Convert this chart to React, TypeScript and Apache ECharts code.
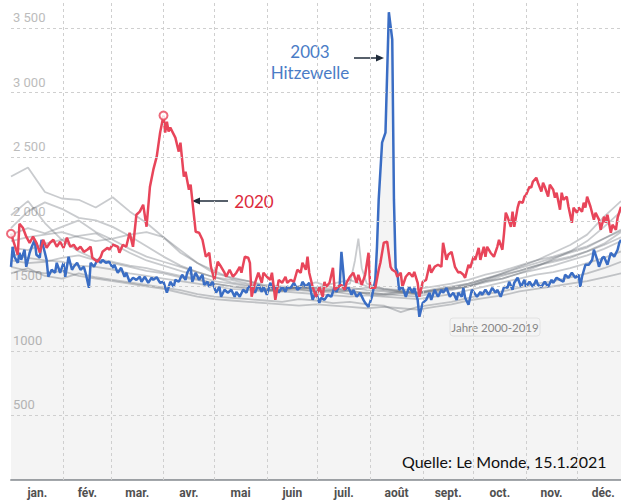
import { useEffect, useRef } from "react";
import * as echarts from "echarts";

const monthNames = ["jan.", "fév.", "mar.", "avr.", "mai", "juin", "juil.", "août", "sept.", "oct.", "nov.", "déc."];
const monthStarts = [0, 31, 59, 90, 120, 151, 181, 212, 243, 273, 304, 334];
const monthCenters = [15.5, 45, 74.5, 105, 135.5, 166, 196.5, 227.5, 258, 288.5, 319, 349.5];
const yTicks = [500, 1000, 1500, 2000, 2500, 3000, 3500];

// 2020 daily deaths [day of year, deaths]
const deaths2020: [number, number][] = [
  [0, 1907], [4, 1744], [5, 1984], [7, 1953], [9, 1884], [11, 1837], [13, 1884], [15, 1837], [17, 1760], [19, 1860],
  [21, 1798], [23, 1837], [25, 1860], [27, 1806], [29, 1845], [31, 1798], [33, 1876], [35, 1806], [37, 1822], [39, 1783],
  [41, 1806], [43, 1767], [45, 1783], [47, 1806], [48, 1721], [51, 1690], [53, 1729], [54, 1767], [57, 1798], [58, 1783],
  [60, 1822], [63, 1806], [64, 1760], [66, 1822], [68, 1806], [70, 1915], [72, 1806], [74, 2054], [76, 2078], [78, 2132],
  [80, 1961], [82, 2271], [84, 2403], [86, 2504], [88, 2690], [90, 2822], [91, 2690], [92, 2775], [93, 2698], [94, 2729],
  [97, 2651], [99, 2543], [100, 2612], [102, 2349], [103, 2388], [105, 2248], [106, 2287], [109, 1922], [111, 1915], [113, 1860],
  [115, 1729], [117, 1760], [118, 1651], [120, 1550], [122, 1690], [124, 1651], [126, 1605], [127, 1574], [129, 1628], [131, 1574],
  [133, 1605], [135, 1651], [136, 1605], [138, 1729], [140, 1721], [141, 1682], [142, 1419], [144, 1527], [146, 1605], [148, 1527],
  [149, 1605], [151, 1574], [153, 1550], [154, 1605], [156, 1395], [158, 1550], [160, 1527], [162, 1574], [163, 1527], [165, 1550],
  [167, 1535], [169, 1628], [171, 1605], [172, 1682], [174, 1628], [175, 1729], [176, 1605], [178, 1496], [180, 1419], [182, 1496],
  [184, 1419], [185, 1535], [186, 1496], [188, 1527], [190, 1643], [191, 1473], [193, 1496], [195, 1511], [197, 1473], [198, 1527],
  [200, 1574], [202, 1605], [204, 1527], [205, 1589], [207, 1511], [209, 1589], [211, 1760], [212, 1488], [215, 1488], [217, 1628],
  [218, 1682], [220, 1837], [222, 1845], [224, 1651], [225, 1628], [227, 1612], [228, 1574], [230, 1605], [231, 1496], [233, 1574],
  [235, 1605], [237, 1574], [238, 1612], [240, 1527], [241, 1419], [243, 1535], [245, 1550], [247, 1667], [248, 1605], [250, 1651],
  [252, 1667], [254, 1651], [255, 1837], [257, 1705], [258, 1744], [260, 1767], [262, 1651], [264, 1605], [265, 1612], [267, 1589],
  [268, 1566], [270, 1667], [271, 1643], [273, 1729], [274, 1705], [276, 1798], [277, 1705], [279, 1806], [280, 1729], [281, 1806],
  [283, 1760], [285, 1729], [287, 1806], [288, 1860], [290, 1783], [291, 1915], [292, 2070], [293, 2039], [295, 1961], [296, 2078],
  [297, 1961], [299, 2109], [300, 2155], [302, 2147], [303, 2194], [304, 2209], [306, 2271], [307, 2264], [308, 2310], [310, 2341],
  [311, 2302], [313, 2233], [314, 2302], [315, 2271], [317, 2194], [318, 2287], [320, 2248], [321, 2186], [322, 2225], [324, 2093],
  [325, 2225], [326, 2170], [328, 2194], [329, 2116], [331, 1992], [332, 2109], [334, 2070], [335, 2109], [337, 2078], [338, 2147],
  [339, 2109], [340, 2194], [342, 2116], [344, 2016], [345, 2070], [347, 2016], [348, 1938], [350, 2039], [351, 1992], [352, 2054],
  [354, 1915], [355, 1977], [357, 1938], [358, 2031], [360, 2116],
];

// 2003 daily deaths (heat wave in August)
const deaths2003: [number, number][] = [
  [0, 1651], [1, 1806], [2, 1729], [4, 1682], [5, 1760], [6, 1705], [8, 1783], [9, 1651], [11, 1760], [12, 1798],
  [14, 1860], [15, 1744], [17, 1721], [18, 1860], [20, 1760], [21, 1705], [22, 1574], [24, 1628], [26, 1605], [27, 1682],
  [29, 1605], [31, 1682], [32, 1574], [34, 1729], [36, 1628], [37, 1651], [39, 1682], [41, 1628], [43, 1651], [44, 1605],
  [46, 1488], [47, 1682], [49, 1651], [51, 1705], [53, 1682], [54, 1705], [56, 1682], [58, 1690], [60, 1643], [61, 1667],
  [63, 1605], [65, 1643], [67, 1574], [68, 1605], [70, 1535], [72, 1566], [74, 1550], [76, 1574], [77, 1535], [79, 1574],
  [81, 1527], [83, 1566], [84, 1550], [86, 1570], [88, 1527], [90, 1535], [92, 1450], [94, 1535], [96, 1496], [97, 1550],
  [99, 1535], [101, 1589], [103, 1550], [104, 1605], [106, 1651], [107, 1535], [109, 1605], [111, 1550], [113, 1589], [114, 1511],
  [116, 1535], [117, 1496], [119, 1535], [121, 1450], [123, 1496], [124, 1419], [126, 1473], [128, 1450], [130, 1473], [132, 1419],
  [133, 1457], [135, 1419], [137, 1473], [139, 1450], [140, 1496], [142, 1496], [144, 1450], [146, 1511], [148, 1457], [149, 1496],
  [151, 1434], [153, 1527], [155, 1473], [156, 1496], [158, 1450], [160, 1496], [162, 1457], [163, 1496], [165, 1488], [167, 1527],
  [169, 1473], [171, 1496], [172, 1535], [174, 1496], [176, 1527], [178, 1395], [180, 1457], [182, 1372], [183, 1411], [185, 1395],
  [187, 1434], [189, 1419], [191, 1496], [192, 1457], [194, 1511], [195, 1767], [196, 1628], [197, 1473], [199, 1496], [201, 1434],
  [202, 1473], [204, 1419], [206, 1450], [208, 1395], [209, 1372], [211, 1341], [213, 1419], [215, 1550], [216, 1806], [217, 2171],
  [219, 2612], [221, 2690], [223, 3622], [225, 3411], [226, 2171], [227, 1643], [228, 1612], [229, 1473], [231, 1496], [233, 1419],
  [235, 1496], [237, 1450], [238, 1488], [240, 1395], [241, 1264], [243, 1372], [245, 1395], [247, 1450], [248, 1395], [250, 1473],
  [252, 1419], [254, 1473], [255, 1450], [257, 1488], [259, 1419], [261, 1450], [263, 1395], [264, 1450], [266, 1419], [267, 1488],
  [268, 1411], [270, 1357], [272, 1473], [273, 1457], [275, 1419], [277, 1457], [278, 1434], [280, 1473], [282, 1434], [284, 1488],
  [286, 1450], [287, 1473], [289, 1419], [291, 1496], [293, 1488], [294, 1535], [296, 1473], [297, 1527], [299, 1566], [301, 1496],
  [303, 1550], [304, 1496], [306, 1535], [308, 1496], [310, 1550], [311, 1511], [313, 1496], [315, 1535], [317, 1496], [319, 1550],
  [320, 1527], [322, 1566], [324, 1550], [326, 1535], [327, 1589], [329, 1566], [331, 1605], [333, 1566], [335, 1589], [336, 1496],
  [337, 1574], [339, 1667], [341, 1667], [343, 1705], [344, 1783], [346, 1705], [347, 1651], [349, 1721], [350, 1729], [352, 1667],
  [354, 1760], [356, 1729], [358, 1783], [359, 1837], [360, 1860],
];

// Other years 2000-2019 (every 10 days)
const grayDays = [0, 10, 20, 30, 40, 50, 60, 70, 80, 90, 100, 110, 120, 130, 140, 150, 160, 170, 180, 190, 200, 210, 220, 230, 240, 250, 260, 270, 280, 290, 300, 310, 320, 330, 340, 350, 360];
const grayA = [2350, 2420, 2230, 2180, 2170, 2110, 2190, 2080, 1990, 1880, 1760, 1680, 1620, 1560, 1540, 1500, 1490, 1480, 1460, 1450, 1470, 1440, 1430, 1450, 1440, 1470, 1480, 1500, 1540, 1560, 1600, 1630, 1660, 1700, 1740, 1790, 1850];
const grayB = [1950, 2080, 2150, 2100, 2030, 2010, 1960, 1890, 1810, 1730, 1660, 1610, 1570, 1530, 1510, 1480, 1470, 1500, 1490, 1480, 1470, 1490, 1470, 1460, 1450, 1480, 1500, 1520, 1560, 1590, 1620, 1660, 1690, 1720, 1770, 1830, 1920];
const grayC = [2050, 2160, 1990, 1860, 1770, 1710, 1690, 1660, 1640, 1610, 1580, 1560, 1520, 1500, 1480, 1470, 1460, 1500, 1470, 1460, 1440, 1450, 1440, 1430, 1420, 1450, 1470, 1500, 1530, 1560, 1600, 1650, 1710, 1770, 1850, 1960, 2080];
const grayD = [1800, 1780, 1830, 1860, 1890, 1910, 1830, 1760, 1700, 1660, 1620, 1580, 1540, 1520, 1500, 1470, 1460, 1450, 1440, 1430, 1420, 1430, 1420, 1410, 1400, 1420, 1440, 1470, 1500, 1530, 1560, 1590, 1610, 1640, 1680, 1720, 1770];
const grayE = [1650, 1620, 1600, 1620, 1580, 1560, 1540, 1520, 1500, 1480, 1450, 1420, 1400, 1390, 1380, 1370, 1360, 1350, 1360, 1350, 1340, 1330, 1340, 1330, 1320, 1340, 1360, 1390, 1410, 1430, 1460, 1480, 1500, 1520, 1540, 1570, 1600];
const grayG = [1700, 1680, 1690, 1720, 1740, 1700, 1680, 1650, 1620, 1600, 1570, 1550, 1520, 1500, 1490, 1480, 1470, 1470, 1460, 1470, 1460, 1450, 1440, 1460, 1450, 1470, 1490, 1510, 1550, 1600, 1650, 1700, 1760, 1820, 1900, 2040, 2160];
const grayH = [1900, 1950, 1910, 1960, 2010, 1920, 1860, 1790, 1730, 1690, 1650, 1610, 1570, 1550, 1520, 1500, 1490, 1480, 1490, 1520, 1550, 1500, 1480, 1470, 1480, 1500, 1520, 1550, 1590, 1620, 1660, 1700, 1730, 1770, 1810, 1870, 1930];
const grayI = [1850, 1880, 1900, 1920, 1880, 1850, 1870, 1900, 1920, 1880, 1780, 1680, 1600, 1570, 1540, 1510, 1500, 1490, 1480, 1470, 1490, 1470, 1460, 1450, 1440, 1460, 1480, 1500, 1540, 1580, 1620, 1660, 1700, 1730, 1770, 1820, 1880];
const grayJ = [1600, 1640, 1580, 1560, 1600, 1570, 1550, 1530, 1510, 1490, 1470, 1440, 1420, 1410, 1400, 1390, 1380, 1400, 1390, 1370, 1380, 1360, 1350, 1300, 1340, 1360, 1380, 1410, 1440, 1460, 1490, 1520, 1540, 1570, 1600, 1640, 1690];
// a year with a July heat peak
const grayHeat: [number, number][] = [
  [0, 1750], [10, 1720], [20, 1700], [30, 1690], [40, 1660], [50, 1650], [60, 1630], [70, 1600], [80, 1580], [90, 1560],
  [100, 1540], [110, 1520], [120, 1500], [130, 1480], [140, 1470], [150, 1460], [160, 1480], [170, 1500], [180, 1530], [190, 1490],
  [200, 1520], [203, 1700], [205, 1870], [207, 1640], [210, 1520], [220, 1480], [230, 1460], [240, 1450], [250, 1470], [260, 1490],
  [270, 1520], [280, 1560], [290, 1600], [300, 1640], [310, 1680], [320, 1720], [330, 1760], [340, 1800], [350, 1870], [360, 1940],
];
const grayYears = [grayA, grayB, grayC, grayD, grayE, grayG, grayH, grayI, grayJ];

const RED = "#e8455a";
const BLUE = "#3a6dc4";

function fmtY(v: number): string {
  if (v === 0 || v % 500 !== 0) return "";
  if (v >= 2000) {
    const s = String(v);
    return s.slice(0, s.length - 3) + " " + s.slice(s.length - 3);
  }
  return String(v);
}

export default function App() {
  const ref = useRef<HTMLDivElement>(null);
  useEffect(() => {
    document.body.style.margin = "0";
    const chart = echarts.init(ref.current!, null, { renderer: "svg" });
    const grayStyle = { color: "rgba(105,111,118,0.36)", width: 1.8 };
    const graySeries: any[] = grayYears.map((vals, k) => ({
      type: "line",
      data: grayDays.map((d, i) => [d, vals[i]]),
      symbol: "none",
      silent: true,
      z: 2,
      lineStyle: grayStyle,
      ...(k === 0
        ? {
            markLine: {
              silent: true,
              symbol: ["none", "none"],
              label: { show: false },
              lineStyle: { color: "#cfcfcf", type: [3, 3], width: 1 },
              data: [
                ...monthStarts.slice(1).map((d) => ({ xAxis: d })),
                ...yTicks.map((v) => ({ yAxis: v })),
              ],
            },
          }
        : {}),
    }));
    graySeries.push({
      type: "line",
      data: grayHeat,
      symbol: "none",
      silent: true,
      z: 2,
      lineStyle: grayStyle,
    });
    let peakIdx = 0;
    deaths2020.forEach((p, i) => {
      if (p[1] > deaths2020[peakIdx][1]) peakIdx = i;
    });
    chart.setOption({
      animation: false,
      grid: { left: 11, right: 0, top: 0, bottom: 22 },
      xAxis: {
        type: "value",
        min: 0,
        max: 360,
        axisLine: { show: true, lineStyle: { color: "#a3a7ab", width: 2 } },
        axisTick: { show: false },
        splitLine: { show: false },
        axisLabel: {
          customValues: monthCenters,
          formatter: (v: number) => {
            const i = monthCenters.indexOf(v);
            return i >= 0 ? monthNames[i] : "";
          },
          color: "#505050",
          fontSize: 12,
          fontWeight: "bold",
          fontFamily: "Roboto",
          margin: 7,
        },
      },
      yAxis: {
        type: "value",
        min: 0,
        max: 3717,
        interval: 500,
        axisLine: { show: false },
        axisTick: { show: false },
        splitLine: { show: false },
        axisLabel: {
          inside: true,
          margin: 2,
          verticalAlign: "bottom",
          padding: [0, 0, 4, 0],
          color: "#bcbcbc",
          fontSize: 13,
          fontFamily: "Roboto",
          formatter: fmtY,
        },
      },
      series: [
        ...graySeries,
        {
          type: "line",
          data: deaths2003,
          symbol: "none",
          z: 3,
          clip: false,
          lineStyle: { color: BLUE, width: 2.5 },
          areaStyle: { color: "rgba(0,0,0,0.06)", origin: "start" },
        },
        {
          type: "line",
          data: deaths2020,
          symbol: "none",
          z: 4,
          lineStyle: { color: RED, width: 2.5 },
        },
        {
          type: "scatter",
          data: [deaths2020[0], deaths2020[peakIdx]],
          symbol: "circle",
          symbolSize: 8,
          z: 5,
          itemStyle: { color: "#fff", borderColor: RED, borderWidth: 2 },
        },
      ],
      graphic: [
        { type: "text", x: 310, y: 51, style: { text: "2003", fill: "#4a7cc6", font: "17px Lato", textAlign: "center", textVerticalAlign: "middle" } },
        { type: "text", x: 310, y: 72, style: { text: "Hitzewelle", fill: "#4a7cc6", font: "17px Lato", textAlign: "center", textVerticalAlign: "middle" } },
        { type: "line", shape: { x1: 354, y1: 58, x2: 378, y2: 58 }, style: { stroke: "#1f2b3a", lineWidth: 1.5 } },
        { type: "polygon", shape: { points: [[384, 58], [376, 54.5], [376, 61.5]] }, style: { fill: "#1f2b3a" } },
        { type: "rect", shape: { x: 233, y: 191, width: 42, height: 21 }, style: { fill: "#fff" } },
        { type: "text", x: 254, y: 201, style: { text: "2020", fill: "#dc2a3c", font: "17px Lato", textAlign: "center", textVerticalAlign: "middle" } },
        { type: "line", shape: { x1: 228, y1: 201, x2: 199, y2: 201 }, style: { stroke: "#1f2b3a", lineWidth: 1.5 } },
        { type: "polygon", shape: { points: [[192, 201], [200, 197.5], [200, 204.5]] }, style: { fill: "#1f2b3a" } },
        { type: "rect", shape: { x: 450, y: 318, width: 90, height: 18, r: 3 }, style: { fill: "#fff", stroke: "#ececec" } },
        { type: "text", x: 495, y: 327, style: { text: "Jahre 2000-2019", fill: "#8c8c8c", font: "11.5px Lato", textAlign: "center", textVerticalAlign: "middle" } },
        { type: "text", x: 402, y: 461, style: { text: "Quelle: Le Monde, 15.1.2021", fill: "#111", font: "16px Lato", textAlign: "left", textVerticalAlign: "middle" } },
      ],
    });
    return () => chart.dispose();
  }, []);
  return <div ref={ref} style={{ width: 621, height: 502 }} />;
}
